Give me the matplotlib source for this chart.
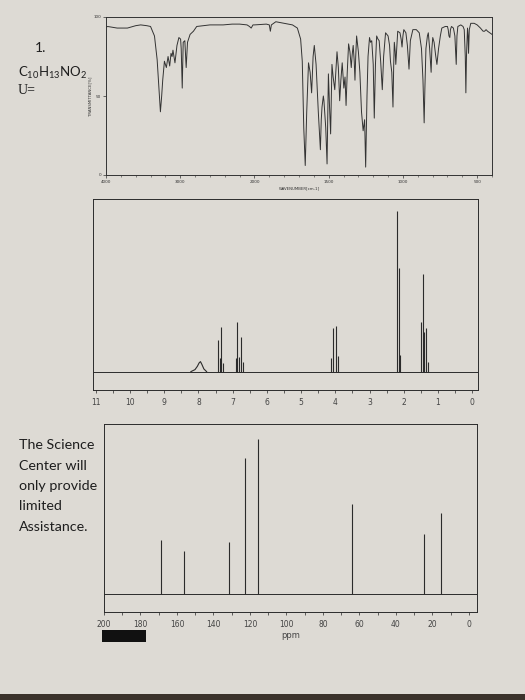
import numpy as np
import matplotlib
matplotlib.use("Agg")
import matplotlib.pyplot as plt
from matplotlib.patches import Rectangle
from matplotlib.ticker import FixedLocator, MultipleLocator

# ---------------- data ----------------
# IR spectrum (wavenumber cm-1, transmittance %)
ir_wn = [4000, 3978, 3850, 3711, 3600, 3533, 3450, 3400, 3347, 3311, 3280, 3267, 3250, 3236,
         3213, 3187, 3164, 3142, 3124, 3110, 3098, 3071, 3044, 3018, 2995, 2987, 2973, 2960,
         2938, 2920, 2902, 2867, 2822, 2778, 2600, 2422, 2300, 2200, 2100, 2067, 2044, 2020,
         2000, 1920, 1900, 1893, 1886, 1856, 1800, 1744, 1711, 1689, 1678, 1668, 1658, 1648,
         1636, 1625, 1615, 1605, 1597, 1585, 1570, 1556, 1550, 1545, 1540, 1536, 1532, 1520,
         1511, 1506, 1502, 1495, 1487, 1482, 1478, 1470, 1459, 1452, 1444, 1435, 1426, 1418,
         1409, 1403, 1398, 1390, 1383, 1375, 1366, 1357, 1348, 1342, 1335, 1328, 1323, 1318,
         1312, 1300, 1290, 1279, 1268, 1258, 1251, 1242, 1235, 1225, 1218, 1210, 1200, 1193,
         1185, 1177, 1168, 1160, 1150, 1139, 1130, 1117, 1100, 1090, 1084, 1075, 1067, 1062,
         1058, 1052, 1048, 1042, 1035, 1020, 1012, 1006, 1000, 994, 980, 970, 959, 950, 933,
         910, 890, 875, 865, 857, 852, 845, 835, 829, 820, 810, 805, 799, 790, 780, 771, 760,
         748, 738, 715, 700, 695, 690, 684, 680, 673, 660, 650, 641, 636, 630, 610, 595, 587,
         580, 576, 572, 565, 561, 558, 553, 543, 520, 500, 478, 460, 450, 440, 430, 415, 400]
ir_t = [93.5, 94, 93, 93, 94.5, 95, 94.5, 94, 88, 73, 50, 40, 50, 60,
        72, 68, 75, 69, 77, 75, 79, 71, 82, 87, 86, 80, 55, 84,
        85, 68, 84, 89, 91, 94, 95, 95, 95.5, 95.5, 95, 94, 93, 95,
        95, 95.5, 95, 91, 95, 97, 96, 95, 93, 86, 72, 30, 6, 40,
        71, 65, 52, 75, 82, 70, 40, 16, 35, 43, 47, 50, 47, 30,
        7, 40, 64, 45, 26, 50, 70, 62, 54, 65, 78, 68, 47, 60,
        71, 62, 55, 62, 44, 65, 83, 78, 68, 76, 82, 72, 60, 75,
        88, 78, 65, 40, 28, 35, 5, 50, 75, 87, 84, 85, 70, 36,
        70, 88, 86, 85, 72, 54, 75, 90, 88, 82, 72, 65, 43, 70,
        84, 78, 70, 80, 91, 90, 86, 81, 88, 92, 90, 82, 67, 85, 92,
        92, 90, 80, 60, 33, 55, 80, 88, 90, 80, 65, 80, 87, 84, 76, 70, 80,
        88, 93, 94, 94, 92, 88, 87, 92, 94, 93, 88, 70, 88, 94, 95, 94, 92,
        75, 52, 75, 93, 88, 77, 92, 96, 96, 95, 93, 91, 91, 92, 91, 90, 89]
ir_major_ticks = [4000, 3000, 2000, 1500, 1000, 500]
ir_major_labels = ["4000", "3000", "2000", "1500", "1000", "500"]

# 1H NMR (ppm, relative intensity)
h1_shift = [7.43, 7.38, 7.33, 7.28, 6.90, 6.86, 6.81, 6.76, 6.71,
            4.14, 4.07, 3.99, 3.91, 2.21, 2.15, 2.12,
            1.51, 1.44, 1.40, 1.34, 1.30]
h1_int = [95, 40, 135, 25, 40, 148, 45, 103, 30,
          40, 130, 136, 48, 480, 310, 50,
          150, 292, 120, 132, 30]
h1_nh_ppm = [8.22, 8.10, 8.03, 7.98, 7.94, 7.90, 7.84, 7.76]
h1_nh_int = [0, 6, 16, 26, 30, 22, 8, 0]
h1_ticks = list(range(0, 12))

# 13C NMR (ppm, relative intensity)
c13_shift = [168.5, 155.9, 131.7, 122.6, 115.5, 64.3, 24.6, 15.5]
c13_int = [160, 127, 154, 407, 462, 268, 178, 242]
c13_ticks = list(range(0, 201, 20))

# ---------------- style ----------------
paper = "#dddad4"
ink = "#2b2b2b"
W, H = 525, 700
fig = plt.figure(figsize=(5.25, 7.0), dpi=100, facecolor=paper)

plt.rcParams["mathtext.fontset"] = "custom"
plt.rcParams["mathtext.rm"] = "Lato"
plt.rcParams["mathtext.it"] = "Lato:italic"


def frac(x0, y0, x1, y1):
    return [x0 / W, 1 - y1 / H, (x1 - x0) / W, (y1 - y0) / H]


# ---------------- IR ----------------
def fwd(w):
    w = np.asarray(w, dtype=float)
    return np.where(w >= 2000, 1000 + (w - 2000) / 2.0, w - 1000)


def inv(u):
    u = np.asarray(u, dtype=float)
    return np.where(u >= 1000, 2000 + 2.0 * (u - 1000), u + 1000)


ax1 = fig.add_axes(frac(106, 17, 492, 175))
ax1.set_facecolor("none")
ax1.set_xscale("function", functions=(fwd, inv))
ax1.plot(ir_wn, ir_t, color="#333333", lw=0.7)
ax1.set_xlim(4000, 400)
ax1.set_ylim(0, 100)
ax1.xaxis.set_major_locator(FixedLocator(ir_major_ticks))
ax1.set_xticklabels(ir_major_labels)
minor = [w for w in range(4000, 2000, -200)] + [w for w in range(2000, 399, -100)]
ax1.xaxis.set_minor_locator(FixedLocator(minor))
ax1.set_yticks([0, 50, 100])
ax1.set_yticklabels(["0", "50", "100"])
ax1.tick_params(axis="both", which="major", labelsize=3, length=2, width=0.5,
                colors="#333333", pad=1.5)
ax1.tick_params(axis="both", which="minor", length=1.2, width=0.4, colors="#333333")
ax1.set_xlabel("WAVENUMBER[cm-1]", fontsize=2.8, labelpad=1.5, color="#333333")
ax1.set_ylabel("TRANSMITTANCE[%]", fontsize=2.8, labelpad=1.0, color="#333333")
for s in ax1.spines.values():
    s.set_linewidth(0.7)
    s.set_color("#333333")

# ---------------- 1H NMR ----------------
ax2 = fig.add_axes(frac(93, 199, 478, 390))
ax2.set_facecolor("none")
ax2.axhline(0, color=ink, lw=0.7)
ax2.vlines(h1_shift, 0, h1_int, color=ink, lw=0.8)
ax2.plot(h1_nh_ppm, h1_nh_int, color=ink, lw=0.8)
ax2.set_xlim(11.08, -0.17)
ax2.set_ylim(-55, 517)
ax2.set_xticks(h1_ticks)
ax2.set_xticklabels([str(t) for t in h1_ticks])
ax2.xaxis.set_minor_locator(MultipleLocator(0.5))
ax2.set_yticks([])
ax2.tick_params(axis="x", which="major", labelsize=5.5, length=2.5, width=0.6,
                colors="#444444", pad=3)
ax2.tick_params(axis="x", which="minor", length=2, width=0.6, colors="#444444")
for s in ax2.spines.values():
    s.set_linewidth(0.7)
    s.set_color(ink)

# ---------------- 13C NMR ----------------
ax3 = fig.add_axes(frac(104, 424, 477, 612))
ax3.set_facecolor("none")
ax3.axhline(0, color=ink, lw=0.7)
ax3.vlines(c13_shift, 0, c13_int, color=ink, lw=0.8)
ax3.set_xlim(200, -4.5)
ax3.set_ylim(-55, 508)
ax3.set_xticks(c13_ticks)
ax3.set_xticklabels([str(t) for t in c13_ticks])
ax3.xaxis.set_minor_locator(MultipleLocator(10))
ax3.set_yticks([])
ax3.tick_params(axis="x", which="major", labelsize=5.5, length=2.5, width=0.6,
                colors="#444444", pad=3)
ax3.tick_params(axis="x", which="minor", length=2, width=0.6, colors="#444444")
ax3.set_xlabel("ppm", fontsize=6, color="#444444", labelpad=2)
for s in ax3.spines.values():
    s.set_linewidth(0.7)
    s.set_color(ink)

# ---------------- texts ----------------
fig.text(35 / W, 1 - 48 / H, "1.", fontsize=10, family="Lato", color="#1e1e1e",
         va="center", ha="left")
fig.text(18 / W, 1 - 73 / H, r"C$_{10}$H$_{13}$NO$_{2}$", fontsize=9.5, family="Lato",
         color="#1e1e1e", va="center", ha="left")
fig.text(18 / W, 1 - 90 / H, "U=", fontsize=10, family="Liberation Serif",
         color="#1e1e1e", va="center", ha="left")

lines = ["The Science", "Center will", "only provide", "limited", "Assistance."]
ys = [445, 466, 486, 506, 527]
for t, y in zip(lines, ys):
    fig.text(19 / W, 1 - y / H, t, fontsize=10.3, family="Lato", color="#1e1e1e",
             va="center", ha="left")

# redaction bar and bottom desk strip
fig.patches.append(Rectangle((102 / W, 1 - 642 / H), 44 / W, 12 / H,
                             transform=fig.transFigure, facecolor="#111111",
                             edgecolor="none"))
fig.patches.append(Rectangle((0, 0), 1, 6 / H, transform=fig.transFigure,
                             facecolor="#3b322b", edgecolor="none"))

fig.savefig("out.png", dpi=100, facecolor=paper)
